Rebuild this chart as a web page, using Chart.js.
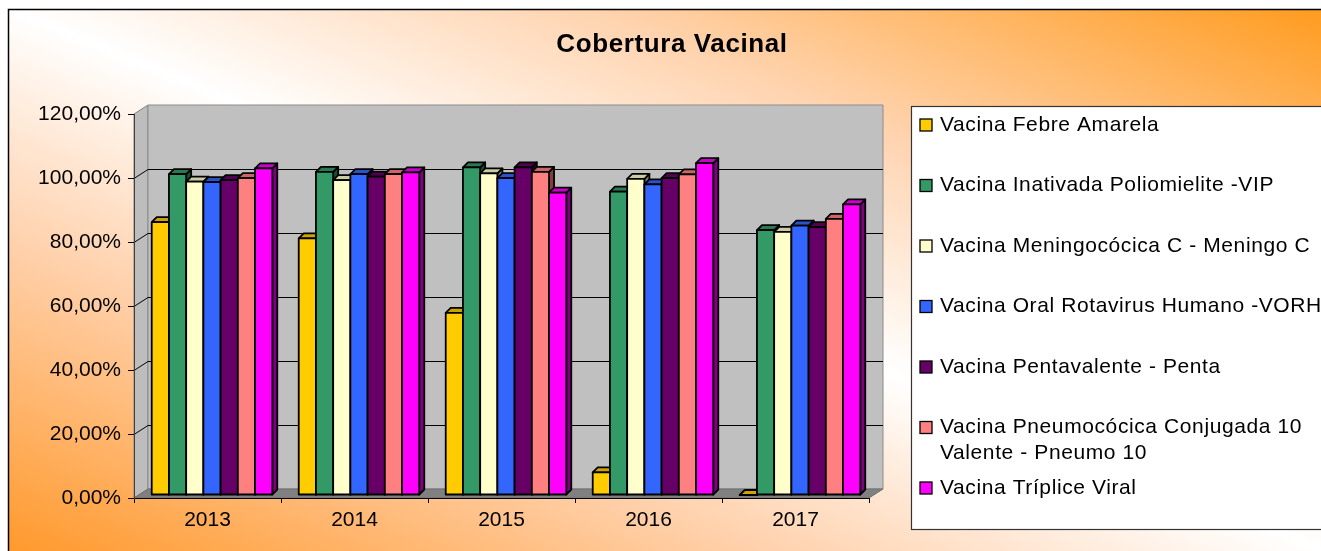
<!DOCTYPE html>
<html>
<head>
<meta charset="utf-8">
<title>Cobertura Vacinal</title>
<script src="https://cdn.jsdelivr.net/npm/chart.js@4.4.0/dist/chart.umd.min.js"></script>
<style>
  html, body { margin: 0; padding: 0; background: #fff; }
  #wrap { position: relative; width: 1321px; height: 551px; }
</style>
</head>
<body>
<div id="wrap"><canvas id="chart" width="1321" height="551"></canvas></div>
<script>
const years = ["2013", "2014", "2015", "2016", "2017"];
const vacinas = [
  "Vacina Febre Amarela",
  "Vacina Inativada Poliomielite -VIP",
  "Vacina Meningocócica C - Meningo C",
  "Vacina Oral Rotavirus Humano -VORH",
  "Vacina Pentavalente - Penta",
  "Vacina Pneumocócica Conjugada 10 Valente - Pneumo 10",
  "Vacina Tríplice Viral",
];
// cobertura em %
const febreAmarela = [85.3, 80.2, 56.9, 7.1, 0];
const poliomieliteVIP = [100.3, 101.0, 102.4, 94.8, 82.8];
const meningoC = [97.9, 98.4, 100.5, 98.8, 82.2];
const rotavirusVORH = [97.8, 100.3, 99.0, 97.1, 84.2];
const pentavalente = [98.4, 99.5, 102.4, 99.0, 83.7];
const pneumo10 = [99.0, 100.3, 101.0, 100.2, 86.3];
const tripliceViral = [102.1, 100.8, 94.5, 103.7, 90.8];
const yTicks = [0, 20, 40, 60, 80, 100, 120];

const colors = ["#FFCC00", "#339966", "#FFFFCC", "#3366FF", "#660066", "#FF8080", "#FF00FF"];
const series = [febreAmarela, poliomieliteVIP, meningoC, rotavirusVORH, pentavalente, pneumo10, tripliceViral];

const wall = { dx: 14, dy: -9 };      // depth of the 3D walls
const barShift = { x: 4.5, y: -3 };   // bars sit a little behind the front edge
const depth = 5;                      // depth of each bar
const font = "'Liberation Sans', Arial, sans-serif";

function shade(hex, f) {
  const n = parseInt(hex.slice(1), 16);
  const r = Math.round(((n >> 16) & 255) * f);
  const g = Math.round(((n >> 8) & 255) * f);
  const b = Math.round((n & 255) * f);
  return `rgb(${r},${g},${b})`;
}

function poly(ctx, pts, fill, stroke) {
  ctx.beginPath();
  ctx.moveTo(pts[0][0], pts[0][1]);
  for (let k = 1; k < pts.length; k++) ctx.lineTo(pts[k][0], pts[k][1]);
  ctx.closePath();
  if (fill) { ctx.fillStyle = fill; ctx.fill(); }
  if (stroke) { ctx.strokeStyle = stroke; ctx.stroke(); }
}

function wrapText(ctx, text, maxWidth) {
  const words = text.split(" ");
  const lines = [];
  let line = "";
  words.forEach((w) => {
    const test = line ? line + " " + w : w;
    if (ctx.measureText(test).width > maxWidth && line) {
      lines.push(line);
      line = w;
    } else {
      line = test;
    }
  });
  lines.push(line);
  return lines;
}

const excel3d = {
  id: "excel3d",
  beforeDraw(chart) {
    const { ctx, chartArea: a, scales: { y } } = chart;
    ctx.save();

    // background with diagonal gradient
    ctx.fillStyle = "#fff";
    ctx.fillRect(0, 0, chart.width, chart.height);
    ctx.save();
    ctx.translate(8, 9);
    ctx.scale(1330, 548);
    const grad = ctx.createLinearGradient(0, 1, 1, 0);
    grad.addColorStop(0, "#FF982A");
    grad.addColorStop(0.28, "#FFCFA8");
    grad.addColorStop(0.5, "#FFFFFF");
    grad.addColorStop(0.72, "#FFD3AE");
    grad.addColorStop(1, "#FF9A1C");
    ctx.fillStyle = grad;
    ctx.fillRect(0, 0, 1, 1);
    ctx.restore();
    ctx.lineWidth = 1.5;
    ctx.strokeStyle = "#000";
    ctx.strokeRect(8.5, 9.5, 1340, 560);

    // title
    ctx.fillStyle = "#000";
    ctx.font = "bold 26px " + font;
    ctx.letterSpacing = "0.6px";
    ctx.textAlign = "center";
    ctx.textBaseline = "middle";
    ctx.fillText("Cobertura Vacinal", 672, 45);
    ctx.letterSpacing = "0px";

    // walls and floor
    const L = a.left, R = a.right, T = a.top, B = a.bottom;
    const dx = wall.dx, dy = wall.dy;
    ctx.lineWidth = 1;
    poly(ctx, [[L, T], [L + dx, T + dy], [L + dx, B + dy], [L, B]], "#BDBDBD", "#808080");
    poly(ctx, [[L + dx, T + dy], [R + dx, T + dy], [R + dx, B + dy], [L + dx, B + dy]], "#C0C0C0", "#8C8C8C");
    poly(ctx, [[L, B], [L + dx, B + dy], [R + dx, B + dy], [R, B]], "#808080", "#707070");

    // gridlines on the back wall
    ctx.strokeStyle = "#000";
    ctx.lineWidth = 1;
    yTicks.forEach((v) => {
      if (v === 0 || v === yTicks[yTicks.length - 1]) return;
      const py = Math.round(y.getPixelForValue(v)) + 0.5;
      ctx.beginPath();
      ctx.moveTo(L, py);
      ctx.lineTo(L + dx, py + dy);
      ctx.lineTo(R + dx, py + dy);
      ctx.stroke();
    });

    // legend
    const lx = 911.5, ly = 106.5;
    ctx.fillStyle = "#fff";
    ctx.fillRect(lx, ly, 420, 423);
    ctx.strokeStyle = "#333";
    ctx.lineWidth = 1.2;
    ctx.strokeRect(lx, ly, 420, 423);
    ctx.font = "21px " + font;
    ctx.letterSpacing = "0.6px";
    ctx.textAlign = "left";
    ctx.textBaseline = "middle";
    chart.data.datasets.forEach((ds, i) => {
      const cy = 125 + i * 60.5;
      ctx.fillStyle = ds.backgroundColor;
      ctx.fillRect(920, cy - 6, 12, 12);
      ctx.strokeStyle = "#000";
      ctx.lineWidth = 1.3;
      ctx.strokeRect(920, cy - 6, 12, 12);
      ctx.fillStyle = "#000";
      const lines = wrapText(ctx, ds.label, 395);
      lines.forEach((ln, k) => ctx.fillText(ln, 940, cy + k * 26));
    });
    ctx.letterSpacing = "0px";

    ctx.restore();
  },
  beforeDatasetsDraw(chart) {
    const ctx = chart.ctx;
    const d = depth;
    ctx.save();
    ctx.lineWidth = 1.8;
    ctx.lineJoin = "round";
    for (let j = 0; j < chart.data.labels.length; j++) {
      chart.data.datasets.forEach((ds, i) => {
        const bar = chart.getDatasetMeta(i).data[j];
        const l = bar.x - bar.width / 2 + barShift.x;
        const r = l + bar.width;
        const t = bar.y + barShift.y;
        const b = bar.base + barShift.y;
        const c = ds.backgroundColor;
        poly(ctx, [[r, t], [r + d, t - d], [r + d, b - d], [r, b]], shade(c, 0.5), "#000");
        poly(ctx, [[l, t], [l + d, t - d], [r + d, t - d], [r, t]], shade(c, 0.8), "#000");
        ctx.fillStyle = c;
        ctx.fillRect(l, t, r - l, b - t);
        ctx.strokeStyle = "#000";
        ctx.strokeRect(l, t, r - l, b - t);
      });
    }
    ctx.restore();
    return false;
  },
};

const ctx = document.getElementById("chart").getContext("2d");

new Chart(ctx, {
  type: "bar",
  data: {
    labels: years,
    datasets: series.map((values, i) => ({
      label: vacinas[i],
      data: values,
      backgroundColor: colors[i],
      borderColor: "#000",
      borderWidth: 1,
    })),
  },
  options: {
    responsive: false,
    animation: false,
    events: [],
    layout: { padding: { left: 0, top: 114, right: 452, bottom: 0 } },
    datasets: { bar: { categoryPercentage: 0.82, barPercentage: 1 } },
    plugins: {
      legend: { display: false },
      title: { display: false },
      tooltip: { enabled: false },
    },
    scales: {
      x: {
        afterFit: (scale) => { scale.height = 53; },
        grid: { drawOnChartArea: false, drawTicks: true, tickLength: 5, color: "#000", offset: true },
        border: { display: true, color: "#000", width: 1 },
        ticks: { color: "#000", padding: 5, font: { family: font, size: 21 } },
      },
      y: {
        min: 0,
        max: 120,
        afterFit: (scale) => { scale.width = 134; },
        afterBuildTicks: (scale) => { scale.ticks = yTicks.map((v) => ({ value: v })); },
        grid: { drawOnChartArea: false, drawTicks: true, tickLength: 6, color: "#000" },
        border: { display: true, color: "#404040", width: 1 },
        ticks: {
          color: "#000",
          padding: 7,
          font: { family: font, size: 21 },
          callback: (v) => v.toFixed(2).replace(".", ",") + "%",
        },
      },
    },
  },
  plugins: [excel3d],
});
</script>
</body>
</html>
